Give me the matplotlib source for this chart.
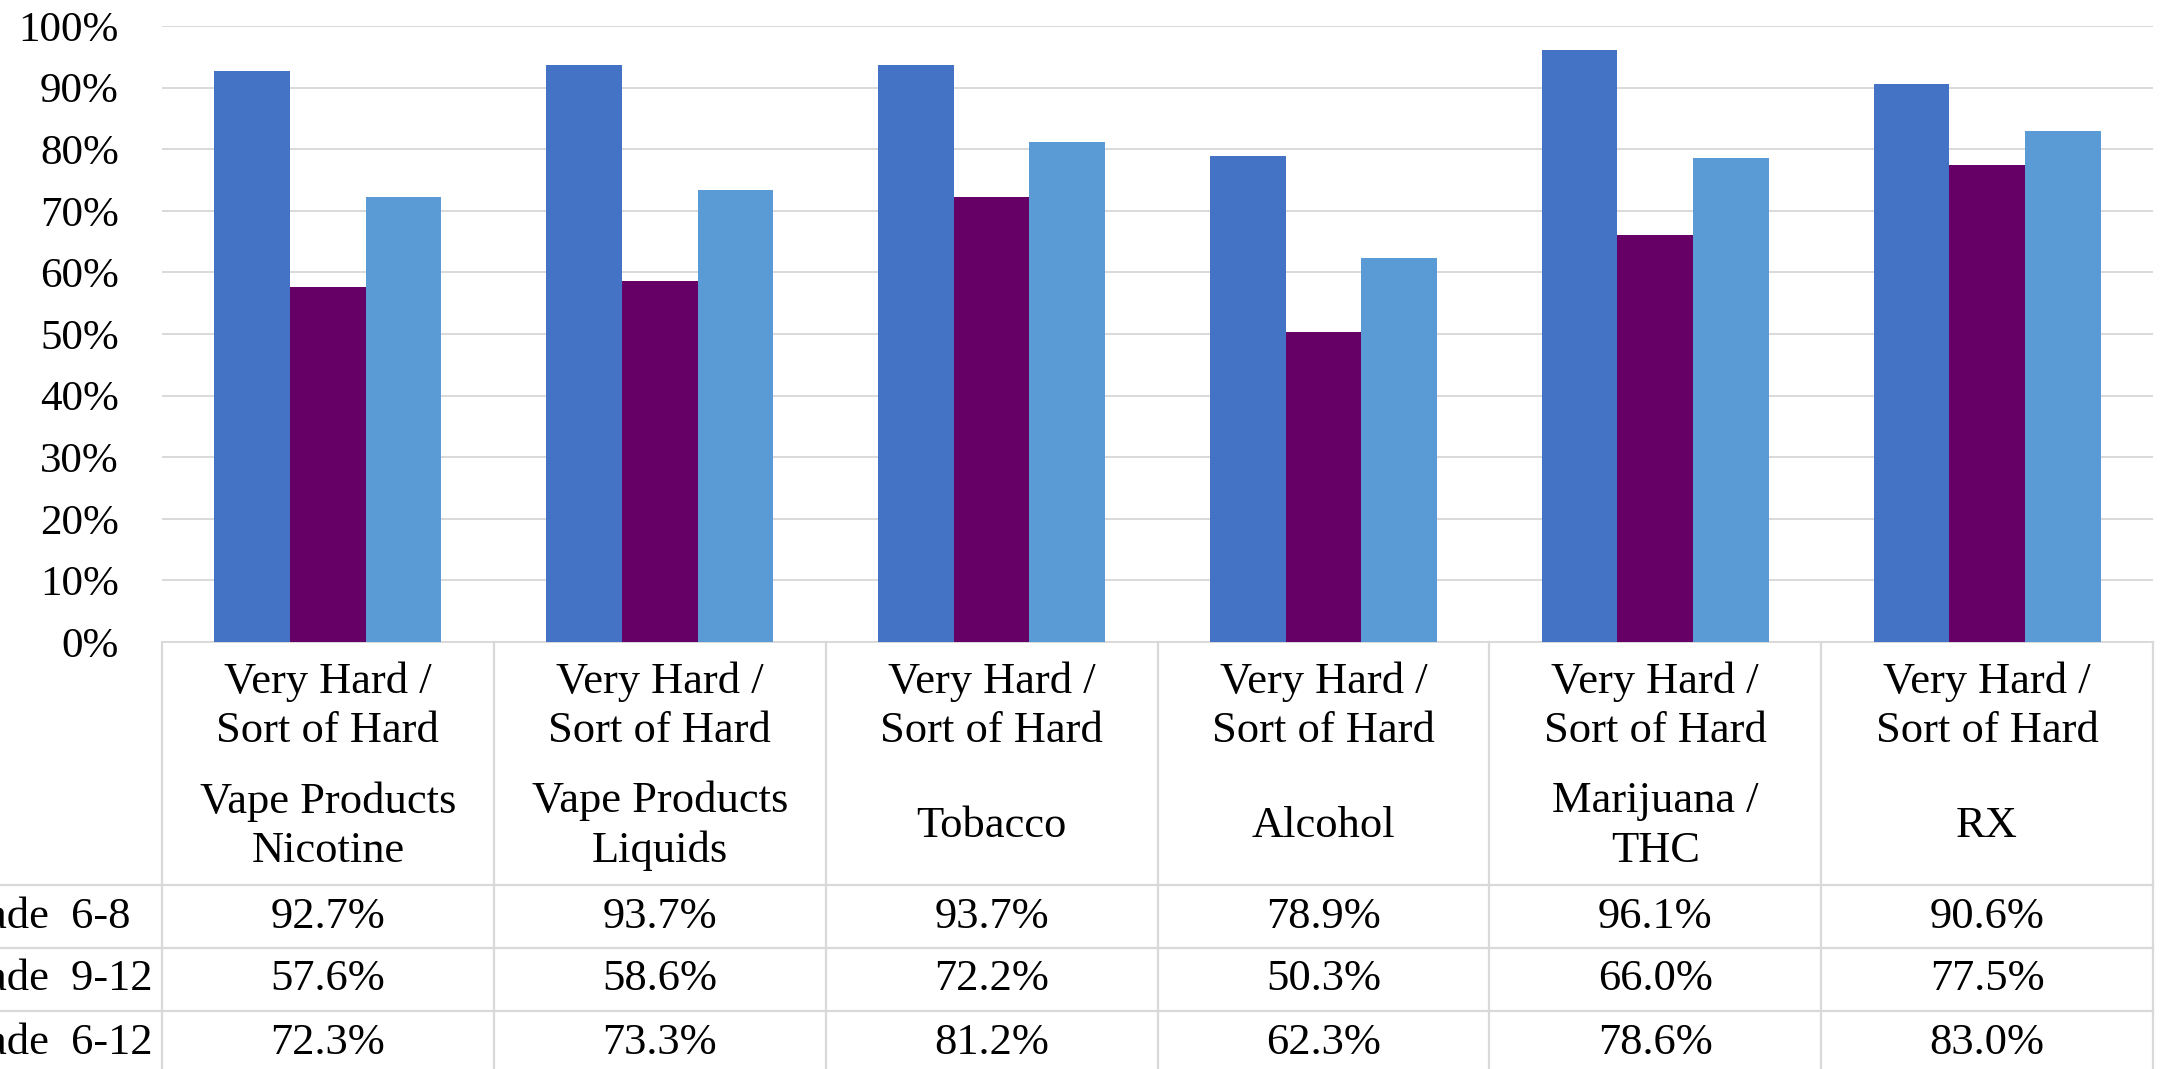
import matplotlib
matplotlib.use("Agg")
import matplotlib.pyplot as plt
import numpy as np
from matplotlib.ticker import PercentFormatter

plt.rcParams['font.family'] = ['Liberation Serif', 'DejaVu Serif']

categories = ["Vape Products\nNicotine", "Vape Products\nLiquids", "Tobacco",
              "Alcohol", "Marijuana /\nTHC", "RX"]
sublabel = "Very Hard /\nSort of Hard"
series_names = ["Grade  6-8", "Grade  9-12", "Grade  6-12"]
grade_6_8 = [92.7, 93.7, 93.7, 78.9, 96.1, 90.6]
grade_9_12 = [57.6, 58.6, 72.2, 50.3, 66.0, 77.5]
grade_6_12 = [72.3, 73.3, 81.2, 62.3, 78.6, 83.0]
series = [grade_6_8, grade_9_12, grade_6_12]
colors = ["#4472C4", "#660066", "#5B9BD5"]

W, H = 2169, 1069
fig = plt.figure(figsize=(W / 100, H / 100), dpi=100)

left_px, right_px, top_px, base_px = 162, 2153, 26, 642
ax = fig.add_axes([left_px / W, (H - base_px) / H, (right_px - left_px) / W,
                   (base_px - top_px) / H])
x = np.arange(len(categories))
bw = 0.228
for i, (vals, c) in enumerate(zip(series, colors)):
    ax.bar(x + (i - 1) * bw, vals, width=bw, color=c, zorder=3)
ax.set_xlim(-0.5, len(categories) - 0.5)
ax.set_ylim(0, 100)
ax.set_yticks(np.arange(0, 101, 10))
ax.yaxis.set_major_formatter(PercentFormatter(decimals=0))
ax.tick_params(axis='y', length=0, pad=31, labelsize=31)
ax.set_xticks([])
ax.grid(axis='y', color='#D9D9D9', lw=1.4, zorder=0)
for s in ['left', 'right', 'top']:
    ax.spines[s].set_visible(False)
ax.spines['bottom'].set_color('#D9D9D9')
ax.spines['bottom'].set_linewidth(1.4)

# table below the plot, y in pixels from top
tab = fig.add_axes([left_px / W, 0, (right_px - left_px) / W, (H - base_px) / H])
tab.set_xlim(-0.5, len(categories) - 0.5)
tab.set_ylim(H, base_px)
tab.axis('off')
lc = '#D9D9D9'
header_bottom, row_h = 885, 63
row_lines = [header_bottom + k * row_h for k in range(3)]
ext = -left_px / (right_px - left_px)
for y in row_lines:
    tab.axhline(y, xmin=ext, xmax=1, color=lc, lw=1.6, clip_on=False)
for k in range(len(categories) + 1):
    tab.plot([k - 0.5, k - 0.5], [base_px, H], color=lc, lw=1.6, clip_on=False)

fs = 32
for i, cat in enumerate(categories):
    tab.text(i, 706, sublabel, ha='center', va='center', fontsize=fs, linespacing=1.3)
    tab.text(i, 826, cat, ha='center', va='center', fontsize=fs, linespacing=1.3)
    for r, vals in enumerate(series):
        tab.text(i, row_lines[r] + row_h / 2, f"{vals[i]:.1f}%", ha='center',
                 va='center', fontsize=fs)

for r, name in enumerate(series_names):
    yc = row_lines[r] + row_h / 2
    fig.text(-60 / W, 1 - yc / H, name, ha='left', va='center', fontsize=fs)

fig.savefig("out.png", dpi=100)
